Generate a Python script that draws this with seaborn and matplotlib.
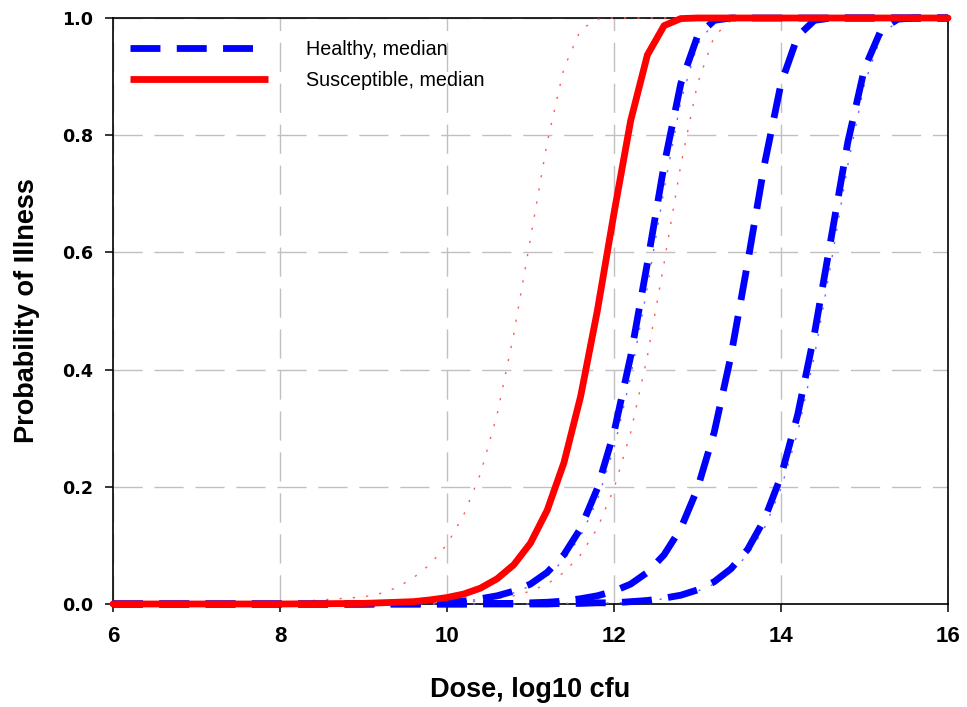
import matplotlib
matplotlib.use("Agg")
import matplotlib.pyplot as plt
from matplotlib.lines import Line2D
import seaborn as sns

# Dose grid (log10 cfu) shared by every curve
dose = [6, 7, 8, 9.0, 9.2, 9.4, 9.6, 9.8, 10.0, 10.2, 10.4, 10.6, 10.8,
        11.0, 11.2, 11.4, 11.6, 11.8, 12.0, 12.2, 12.4, 12.6, 12.8,
        13.0, 13.2, 13.4, 13.6, 13.8, 14.0, 14.2, 14.4, 14.6, 14.8,
        15.0, 15.2, 15.4, 15.6, 15.8, 16.0]

# Susceptible population: median and bounds
susceptible_median = [0.0, 0.0, 0.0, 0.001, 0.002, 0.003, 0.004, 0.007, 0.011, 0.017,
                      0.027, 0.043, 0.067, 0.104, 0.160, 0.241, 0.354, 0.500, 0.667,
                      0.825, 0.937, 0.987, 0.999, 1.0, 1.0, 1.0, 1.0, 1.0, 1.0, 1.0,
                      1.0, 1.0, 1.0, 1.0, 1.0, 1.0, 1.0, 1.0, 1.0]
susceptible_lower = [0.0, 0.0, 0.002, 0.012, 0.018, 0.028, 0.045, 0.068, 0.102, 0.152,
                     0.222, 0.323, 0.461, 0.624, 0.788, 0.914, 0.980, 0.998, 1.0,
                     1.0, 1.0, 1.0, 1.0, 1.0, 1.0, 1.0, 1.0, 1.0, 1.0, 1.0,
                     1.0, 1.0, 1.0, 1.0, 1.0, 1.0, 1.0, 1.0, 1.0]
susceptible_upper = [0.0, 0.0, 0.0, 0.0, 0.0, 0.001, 0.001, 0.001, 0.002, 0.003,
                     0.005, 0.009, 0.014, 0.022, 0.034, 0.054, 0.084, 0.129, 0.197,
                     0.293, 0.423, 0.582, 0.749, 0.888, 0.969, 0.996, 1.0, 1.0, 1.0, 1.0,
                     1.0, 1.0, 1.0, 1.0, 1.0, 1.0, 1.0, 1.0, 1.0]

# Healthy population: median and bounds (dashed)
healthy_lower = [0.0, 0.0, 0.0, 0.0, 0.001, 0.001, 0.001, 0.002, 0.003, 0.005,
                 0.009, 0.014, 0.022, 0.034, 0.054, 0.084, 0.129, 0.197, 0.293,
                 0.423, 0.582, 0.749, 0.888, 0.969, 0.996, 1.0, 1.0, 1.0, 1.0, 1.0,
                 1.0, 1.0, 1.0, 1.0, 1.0, 1.0, 1.0, 1.0, 1.0]
healthy_median = [0.0, 0.0, 0.0, 0.0, 0.0, 0.0, 0.0, 0.0, 0.0, 0.0,
                  0.001, 0.001, 0.001, 0.002, 0.003, 0.005, 0.009, 0.014, 0.022,
                  0.034, 0.054, 0.084, 0.129, 0.197, 0.293, 0.423, 0.582, 0.749, 0.888, 0.969,
                  0.996, 1.0, 1.0, 1.0, 1.0, 1.0, 1.0, 1.0, 1.0]
healthy_upper = [0.0, 0.0, 0.0, 0.0, 0.0, 0.0, 0.0, 0.0, 0.0, 0.0,
                 0.0, 0.0, 0.0, 0.0, 0.0, 0.001, 0.001, 0.002, 0.002,
                 0.004, 0.006, 0.010, 0.015, 0.024, 0.038, 0.060, 0.093, 0.144, 0.218, 0.323,
                 0.461, 0.624, 0.788, 0.914, 0.980, 0.998, 1.0, 1.0, 1.0]

# Healthy population: alternative bounds (dotted)
healthy_lower_alt = [0.0, 0.0, 0.0, 0.0, 0.0, 0.001, 0.001, 0.002, 0.003, 0.005,
                     0.008, 0.012, 0.019, 0.031, 0.048, 0.075, 0.116, 0.177, 0.266,
                     0.388, 0.541, 0.708, 0.858, 0.955, 0.993, 1.0, 1.0, 1.0, 1.0, 1.0,
                     1.0, 1.0, 1.0, 1.0, 1.0, 1.0, 1.0, 1.0, 1.0]
healthy_upper_alt = [0.0, 0.0, 0.0, 0.0, 0.0, 0.0, 0.0, 0.0, 0.0, 0.0,
                     0.0, 0.0, 0.0, 0.0, 0.0, 0.001, 0.001, 0.001, 0.002,
                     0.003, 0.005, 0.009, 0.014, 0.022, 0.034, 0.054, 0.084, 0.129, 0.197, 0.293,
                     0.423, 0.582, 0.749, 0.888, 0.969, 0.996, 1.0, 1.0, 1.0]

x_ticks = [6, 8, 10, 12, 14, 16]
y_ticks = [0.0, 0.2, 0.4, 0.6, 0.8, 1.0]
y_tick_labels = ["0.0", "0.2", "0.4", "0.6", "0.8", "1.0"]
legend_labels = ["Healthy, median", "Susceptible, median"]

BLUE = "#0000ff"
RED = "#ff0000"
DASH = (0, (4.4, 2.4))
DOT = (0, (1.6, 8.0))

sns.set_style("white")
plt.rcParams["font.family"] = ["Liberation Sans", "DejaVu Sans"]
plt.rcParams["text.color"] = "black"
plt.rcParams["axes.labelcolor"] = "black"
plt.rcParams["xtick.color"] = "black"
plt.rcParams["ytick.color"] = "black"

fig = plt.figure(figsize=(9.67, 7.07), dpi=100)
ax = fig.add_axes([113 / 967, 103 / 707, 835 / 967, 586 / 707])

# Dotted bound curves (thin, underneath)
for ys, col in [(susceptible_lower, "#ff5a5a"), (susceptible_upper, "#ff5a5a"),
                (healthy_lower_alt, "#6a6aff"), (healthy_upper_alt, "#6a6aff")]:
    sns.lineplot(x=dose, y=ys, ax=ax, color=col, lw=1.0, linestyle=DOT,
                 clip_on=False, zorder=3)

# Healthy curves (dashed blue)
for ys in [healthy_lower, healthy_median, healthy_upper]:
    sns.lineplot(x=dose, y=ys, ax=ax, color=BLUE, lw=4.9, linestyle=DASH,
                 dash_capstyle="butt", clip_on=False, zorder=4)

# Susceptible median (solid red)
sns.lineplot(x=dose, y=susceptible_median, ax=ax, color=RED, lw=4.9,
             clip_on=False, zorder=5)

ax.set_xlim(6, 16)
ax.set_ylim(0, 1)
ax.set_xticks(x_ticks)
ax.set_yticks(y_ticks)
ax.set_yticklabels(y_tick_labels)

ax.set_axisbelow(True)
ax.grid(True, color="#c0c0c0", lw=1.0, linestyle=(0, (21, 8.5)))

for side in ["left", "right", "top", "bottom"]:
    ax.spines[side].set_visible(True)
    ax.spines[side].set_color("black")
    ax.spines[side].set_linewidth(1.2)

ax.tick_params(axis="both", which="major", direction="out", length=5.5,
               width=1.1, color="black", labelcolor="black", bottom=True, left=True)
ax.tick_params(axis="x", pad=10)
ax.tick_params(axis="y", pad=9)
for lbl in ax.get_xticklabels():
    lbl.set_fontfamily("Liberation Sans")
    lbl.set_fontweight("bold")
    lbl.set_fontsize(16)
for lbl in ax.get_yticklabels():
    lbl.set_fontfamily("DejaVu Sans")
    lbl.set_fontweight("bold")
    lbl.set_fontsize(12.6)

ax.set_xlabel("Dose, log10 cfu", fontsize=19.5, fontweight="bold",
              family="Liberation Sans", labelpad=22, color="black")
ax.set_ylabel("Probability of Illness", fontsize=19.5, fontweight="bold",
              family="Liberation Sans", labelpad=16, color="black")

handles = [
    Line2D([], [], color=BLUE, lw=4.9, linestyle=DASH, dash_capstyle="butt"),
    Line2D([], [], color=RED, lw=4.9, solid_capstyle="butt"),
]
leg = ax.legend(handles, legend_labels, loc="upper left",
                bbox_to_anchor=(0.0204, 0.962), frameon=False, borderpad=0,
                borderaxespad=0, handlelength=7.0, handletextpad=1.9,
                labelspacing=0.58, prop={"family": "Liberation Sans", "size": 14.2})
for t in leg.get_texts():
    t.set_color("black")

fig.savefig("out.png", dpi=100)
